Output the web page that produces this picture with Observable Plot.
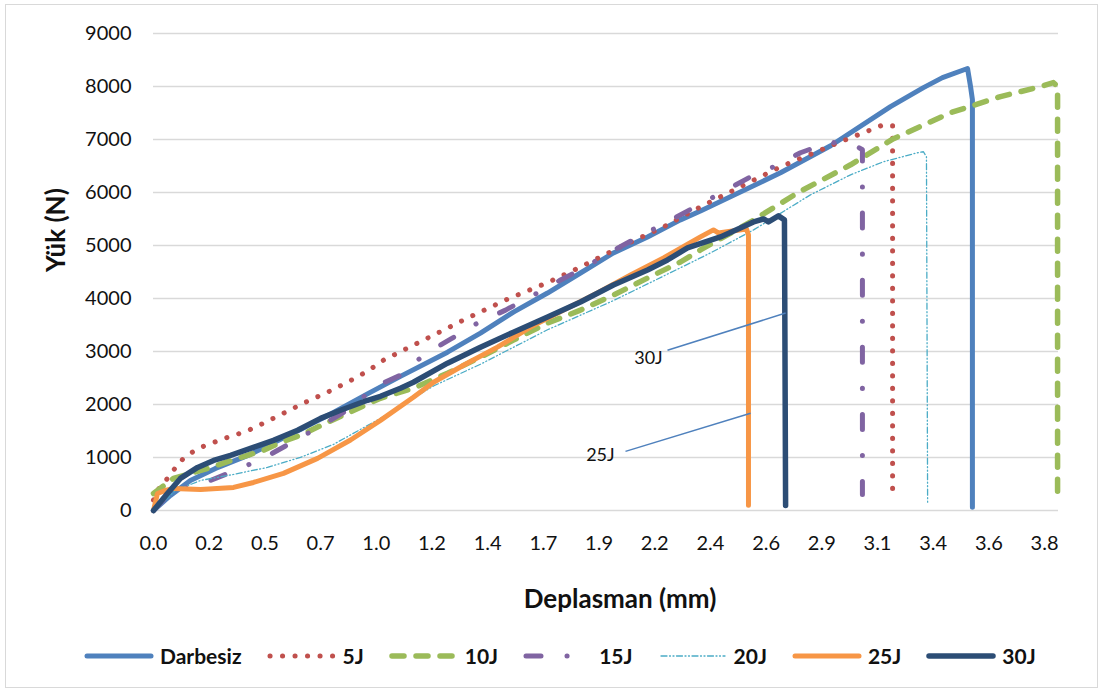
<!DOCTYPE html>
<html><head><meta charset="utf-8">
<script src="https://cdn.jsdelivr.net/npm/d3@7"></script>
<script src="https://cdn.jsdelivr.net/npm/@observablehq/plot@0.6"></script>
<style>
body{margin:0;background:#fff;font-family:Lato,sans-serif;}
#frame{position:absolute;left:5px;top:4px;width:1093px;height:684px;border:1.5px solid #d9d9d9;box-sizing:border-box;}
#chart{position:absolute;left:0;top:0;}
#legend{position:absolute;left:83px;top:643px;display:flex;align-items:center;}
.item{display:flex;align-items:center;margin-right:24px;font-weight:bold;font-size:21px;color:#111;}
.item svg{margin-right:5px;}
</style></head><body>
<div id="frame"></div><div id="chart"></div><div id="legend"></div>
<script>
// ---- data ----
const seriesNames = ["Darbesiz","5J","10J","15J","20J","25J","30J"];
const xTicks = [0,0.24,0.48,0.72,0.96,1.2,1.44,1.68,1.92,2.16,2.4,2.64,2.88,3.12,3.36,3.6,3.84];
const xTickLabels = ["0.0","0.2","0.5","0.7","1.0","1.2","1.4","1.7","1.9","2.2","2.4","2.6","2.9","3.1","3.4","3.6","3.8"];
const yTicks = [0,1000,2000,3000,4000,5000,6000,7000,8000,9000];

const darbesizX = [0,0.073,0.159,0.267,0.418,0.633,0.776,0.922,1.064,1.267,1.409,1.551,1.698,1.840,1.982,2.129,2.271,2.357,2.702,2.918,3.176,3.318,3.400,3.508,3.521,3.529,3.529];
const darbesizY = [0,284,567,794,1060,1530,1850,2200,2530,2987,3347,3744,4103,4481,4859,5162,5483,5650,6372,6882,7620,7979,8168,8340,7998,7752,60];

const j5X = [0,0.030,0.065,0.095,0.129,0.172,0.215,0.306,0.400,0.491,0.577,0.664,0.750,0.836,0.922,0.991,1.181,1.353,1.526,1.698,1.840,2.012,2.198,2.357,2.702,2.961,3.060,3.146,3.185,3.185];
const j5Y = [200,473,624,813,983,1115,1210,1361,1494,1683,1872,2061,2231,2420,2628,2836,3252,3630,3989,4300,4594,4973,5351,5729,6485,6958,7128,7279,7260,200];

const j10X = [0,0.086,0.233,0.362,0.474,0.547,0.633,0.750,0.978,1.120,1.267,1.409,1.551,1.698,1.840,1.982,2.129,2.271,2.357,2.573,2.776,3.004,3.189,3.435,3.650,3.822,3.878,3.896,3.896];
const j10Y = [321,605,794,983,1134,1286,1418,1664,2118,2307,2590,2893,3214,3536,3781,4065,4386,4689,4916,5445,5994,6523,7015,7506,7809,7998,8073,7998,151];

const j15X = [0,0.073,0.159,0.246,0.375,0.496,0.612,0.733,0.849,0.957,1.064,1.164,1.280,1.396,1.517,1.638,1.754,1.862,1.969,2.090,2.206,2.327,2.573,2.672,2.788,2.918,2.982,3.034,3.055,3.055];
const j15Y = [0,340,454,567,794,1040,1323,1626,1929,2344,2552,2931,3233,3536,3781,4065,4349,4594,4878,5162,5426,5710,6296,6485,6750,6958,6882,6863,6807,300];

const j20X = [0,0.095,0.203,0.345,0.491,0.633,0.776,0.978,1.207,1.409,1.698,1.982,2.271,2.400,2.586,2.831,3.004,3.146,3.292,3.318,3.331,3.336];
const j20Y = [0,378,567,681,813,1002,1248,1739,2350,2760,3410,3960,4580,4859,5294,5956,6334,6580,6750,6769,6674,132];

const j25X = [0,0.017,0.052,0.086,0.203,0.345,0.431,0.560,0.707,0.849,0.978,1.120,1.207,1.336,1.482,1.625,1.767,1.913,2.056,2.198,2.357,2.413,2.434,2.555,2.564,2.564];
const j25Y = [0,321,378,416,397,435,529,700,983,1330,1700,2137,2420,2741,3082,3460,3781,4103,4443,4765,5162,5294,5237,5313,5200,100];

const j30X = [0,0.060,0.116,0.190,0.259,0.332,0.418,0.517,0.621,0.720,0.806,0.922,0.978,1.064,1.120,1.267,1.409,1.551,1.698,1.840,1.982,2.129,2.215,2.301,2.443,2.586,2.629,2.650,2.693,2.719,2.724];
const j30Y = [0,321,605,813,945,1040,1172,1323,1513,1739,1891,2080,2155,2307,2420,2779,3082,3365,3649,3933,4254,4538,4727,4954,5162,5445,5502,5445,5559,5483,95];

const calloutLabels = ["30J","25J"];
const calloutTextX = [2.133,1.926];
const calloutTextY = [2874,1040];
const calloutX1 = [2.215,2.034];
const calloutY1 = [3025,1115];
const calloutX2 = [2.724,2.573];
const calloutY2 = [3725,1834];

// ---- styles ----
const styles = [
  {color:"#4F81BD", width:5, dash:null},
  {color:"#C0504D", width:5, dash:"0.1,12.4"},
  {color:"#9BBB59", width:5.5, dash:"12,12"},
  {color:"#8064A2", width:5, dash:"15,26,0.1,26"},
  {color:"#4BACC6", width:1.3, dash:"6,2.5,1,2.5,1,2.5"},
  {color:"#F79646", width:5, dash:null},
  {color:"#2C4D75", width:5.5, dash:null}
];
const xsList = [darbesizX,j5X,j10X,j15X,j20X,j25X,j30X];
const ysList = [darbesizY,j5Y,j10Y,j15Y,j20Y,j25Y,j30Y];

const lineMarks = seriesNames.map((name,k)=>{
  const rows = xsList[k].map((x,i)=>({x, y: ysList[k][i]}));
  const st = styles[k];
  const opts = {x:"x", y:"y", stroke:st.color, strokeWidth:st.width, strokeLinecap:"round", strokeLinejoin:"round"};
  if (st.dash) opts.strokeDasharray = st.dash;
  return Plot.line(rows, opts);
});

const callouts = calloutLabels.map((label,i)=>({label, tx:calloutTextX[i], ty:calloutTextY[i], x1:calloutX1[i], y1:calloutY1[i], x2:calloutX2[i], y2:calloutY2[i]}));

const plot = Plot.plot({
  width:1104, height:630, marginTop:33, marginBottom:120, marginLeft:153, marginRight:46,
  style:{fontFamily:"Lato, sans-serif", fontSize:"20px", color:"#111", background:"transparent"},
  x:{domain:[0,3.9]},
  y:{domain:[0,9000]},
  marks:[
    Plot.gridY(yTicks,{stroke:"#d9d9d9", strokeOpacity:1, strokeWidth:1.5}),
    Plot.axisY(yTicks,{tickSize:0, tickPadding:22, fontSize:20, label:null, tickFormat:d=>String(d)}),
    Plot.axisX(xTicks,{tickSize:0, tickPadding:25, fontSize:20, label:null, tickFormat:d=>xTickLabels[xTicks.indexOf(d)]}),
    ...lineMarks,
    Plot.link(callouts,{x1:"x1", y1:"y1", x2:"x2", y2:"y2", stroke:"#4F81BD", strokeWidth:1.5}),
    Plot.text(callouts,{x:"tx", y:"ty", text:"label", fontSize:18, fill:"#111"}),
    Plot.text(["Yük (N)"],{frameAnchor:"left", dx:-97, rotate:-90, fontSize:26, fontWeight:"bold", fill:"#111"}),
    Plot.text(["Deplasman (mm)"],{frameAnchor:"bottom", dx:14, dy:97, fontSize:26, fontWeight:"bold", fill:"#111"})
  ]
});
document.getElementById("chart").appendChild(plot);

// ---- legend ----
const legend = document.getElementById("legend");
seriesNames.forEach((name,k)=>{
  const st = styles[k];
  const item = document.createElement("div");
  item.className = "item";
  const dash = st.dash ? ` stroke-dasharray="${st.dash}"` : "";
  item.innerHTML = `<svg width="72" height="20"><line x1="4" y1="10" x2="68" y2="10" stroke="${st.color}" stroke-width="${st.width}" stroke-linecap="round"${dash}/></svg><span>${name}</span>`;
  legend.appendChild(item);
});
</script></body></html>
